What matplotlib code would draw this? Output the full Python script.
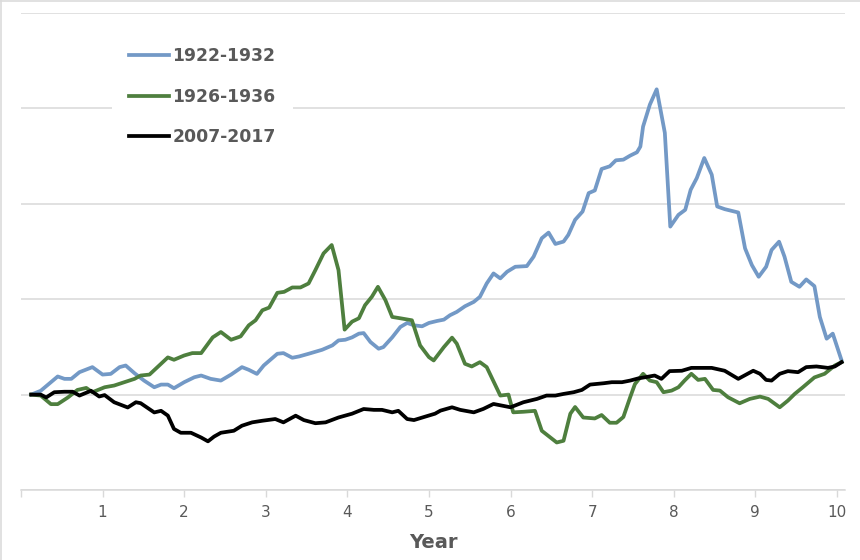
import matplotlib
matplotlib.use("Agg")
import matplotlib.pyplot as plt
from matplotlib.lines import Line2D

# ---- data (x in months, y in grid units) ----
blue_x_m = [1.5, 2.9, 5.4, 6.4, 7.4, 8.6, 10.5, 12, 13.2, 14.5, 15.4, 16.7, 18.1, 19.6, 20.6, 21.6, 22.5,
            24, 25.5, 26.5, 27.9, 29.4, 30.9, 32.5, 33.5, 34.7, 35.7, 37.7, 38.6, 39.9, 40.9, 42.3,
            44.3, 45.8, 46.7, 47.7, 48.7, 49.7, 50.4, 51.4, 52.6, 53.3, 54.6, 55.8, 56.8, 57.8, 59,
            60, 61.2, 62.2, 63.1, 64.1, 65.3, 66.6, 67.5, 68.5, 69.5, 70.5, 71.5, 72.7, 74.4, 75.4,
            76.6, 77.6, 78.6, 79.8, 80.5, 81.5, 82.6, 83.5, 84.4, 85.4, 86.6, 87.5, 88.6, 89.6, 90.6,
            91.1, 91.5, 92.5, 93.5, 94.7, 95.5, 96.7, 97.7, 98.5, 99.4, 100.5, 101.6, 102.4, 103.5,
            105.5, 106.5, 107.5, 108.5, 109.6, 110.4, 111.5, 112.3, 113.3, 114.5, 115.5, 116.7,
            117.5, 118.5, 119.4, 120.7]
blue_y = [0, 0.04, 0.19, 0.165, 0.165, 0.235, 0.288, 0.21, 0.217, 0.288, 0.305, 0.224, 0.147, 0.077,
          0.105, 0.105, 0.067, 0.13, 0.182, 0.2, 0.165, 0.147, 0.21, 0.288, 0.26, 0.217, 0.305, 0.428,
          0.435, 0.386, 0.4, 0.428, 0.47, 0.516, 0.568, 0.575, 0.6, 0.639, 0.645, 0.551, 0.481, 0.498,
          0.6, 0.709, 0.751, 0.726, 0.716, 0.751, 0.772, 0.786, 0.832, 0.867, 0.926, 0.972, 1.025,
          1.165, 1.27, 1.218, 1.288, 1.34, 1.347, 1.446, 1.639, 1.698, 1.579, 1.604, 1.674, 1.832,
          1.919, 2.112, 2.14, 2.365, 2.393, 2.456, 2.463, 2.505, 2.54, 2.6, 2.81, 3.04, 3.2, 2.744,
          1.761, 1.884, 1.937, 2.147, 2.27, 2.48, 2.305, 1.972, 1.944, 1.909, 1.533, 1.358, 1.235,
          1.34, 1.516, 1.603, 1.446, 1.182, 1.13, 1.207, 1.137, 0.814, 0.586, 0.639, 0.358]

green_x_m = [1.5, 2.9, 4.4, 5.4, 6.9, 8.3, 9.6, 10.5, 12.3, 13.7, 15.2, 16.7, 17.6, 18.9, 20.1, 21.6,
             22.5, 24, 25.2, 26.5, 28.2, 29.4, 30.9, 32.3, 33.5, 34.5, 35.5, 36.5, 37.7, 38.7, 39.9,
             41.1, 42.3, 43.3, 44.5, 45.7, 46.7, 47.6, 48.7, 49.7, 50.6, 51.6, 52.5, 53.6, 54.6, 55.8,
             57.5, 58.7, 60, 60.7, 62.2, 63.4, 64.1, 65.3, 66.3, 67.5, 68.5, 70.5, 71.7, 72.4, 73.9,
             75.6, 76.6, 78.8, 79.8, 80.8, 81.5, 82.7, 84.4, 85.4, 86.6, 87.6, 88.6, 89.6, 90.3, 91.5,
             92.5, 93.5, 94.5, 95.7, 96.7, 97.6, 98.6, 99.6, 100.6, 101.8, 102.8, 104, 105.7, 107.2,
             108.7, 109.9, 111.6, 112.8, 113.8, 115, 116.7, 118.2, 119.7, 120.7]
green_y = [0, -0.01, -0.1, -0.1, -0.03, 0.049, 0.07, 0.025, 0.077, 0.095, 0.13, 0.165, 0.2, 0.21,
           0.29, 0.39, 0.365, 0.41, 0.435, 0.435, 0.6, 0.656, 0.575, 0.61, 0.726, 0.779, 0.884,
           0.912, 1.067, 1.077, 1.123, 1.123, 1.165, 1.305, 1.48, 1.568, 1.305, 0.681, 0.765, 0.8,
           0.937, 1.025, 1.13, 0.99, 0.814, 0.8, 0.779, 0.516, 0.393, 0.358, 0.498, 0.597, 0.534,
           0.323, 0.295, 0.34, 0.288, -0.01, 0.0, -0.186, -0.18, -0.17, -0.379, -0.502, -0.484,
           -0.2, -0.13, -0.24, -0.25, -0.214, -0.295, -0.295, -0.235, -0.028, 0.11, 0.218, 0.147,
           0.13, 0.025, 0.042, 0.077, 0.147, 0.218, 0.154, 0.165, 0.049, 0.042, -0.028, -0.091,
           -0.045, -0.021, -0.045, -0.133, -0.063, 0.007, 0.077, 0.18, 0.218, 0.305, 0.34]

black_x_m = [1.5, 2.9, 3.7, 4.9, 6.4, 7.6, 8.6, 10.3, 11.5, 12.3, 13.7, 15.7, 16.9, 17.6, 19.6, 20.6,
             21.6, 22.5, 23.5, 25, 26.5, 27.5, 28.4, 29.4, 31.3, 32.5, 34, 35.5, 37.4, 38.6, 40.4,
             41.6, 43.3, 44.8, 46.7, 48.7, 50.4, 51.9, 53.1, 54.6, 55.5, 56.8, 57.8, 59.5, 60.9,
             61.7, 63.4, 64.6, 66.6, 68, 69.5, 72, 73.9, 75.9, 77.3, 78.6, 79.8, 81.3, 82.5, 83.7,
             85.7, 86.9, 88.4, 89.6, 90.8, 91.8, 93.2, 94.2, 95.4, 97.2, 98.6, 101.6, 103.5, 105.5,
             107.7, 108.7, 109.6, 110.4, 111.6, 112.8, 114.3, 115.5, 117, 118.7, 119.7, 120.7]
black_y = [0, 0, -0.03, 0.025, 0.03, 0.03, -0.01, 0.04, -0.02, -0.005, -0.08, -0.135, -0.08, -0.09,
           -0.187, -0.17, -0.22, -0.36, -0.4, -0.4, -0.45, -0.49, -0.44, -0.4, -0.379, -0.326,
           -0.291, -0.274, -0.256, -0.291, -0.221, -0.267, -0.3, -0.291, -0.24, -0.2, -0.151,
           -0.16, -0.16, -0.186, -0.17, -0.256, -0.267, -0.23, -0.2, -0.168, -0.133, -0.16,
           -0.186, -0.15, -0.098, -0.133, -0.08, -0.045, -0.01, -0.01, 0.007, 0.025, 0.049, 0.105,
           0.119, 0.13, 0.13, 0.147, 0.17, 0.182, 0.2, 0.165, 0.246, 0.25, 0.28, 0.28, 0.25, 0.165,
           0.25, 0.218, 0.154, 0.147, 0.218, 0.246, 0.235, 0.288, 0.295, 0.28, 0.295, 0.34]

labels = ["1922-1932", "1926-1936", "2007-2017"]
xticks = [1, 2, 3, 4, 5, 6, 7, 8, 9, 10]
xlabel = "Year"

blue_x = [m / 12 for m in blue_x_m]
green_x = [m / 12 for m in green_x_m]
black_x = [m / 12 for m in black_x_m]

BLUE = "#7399c6"
GREEN = "#4e7f3e"
TXT = "#595959"
GRID = "#d9d9d9"

fig = plt.figure(figsize=(8.6, 5.6), dpi=100)
ax = fig.add_axes([21 / 860, 1 - 490 / 560, (845 - 21) / 860, (490 - 13) / 560])

ax.plot(blue_x, blue_y, color=BLUE, lw=2.7, solid_joinstyle="round", label=labels[0], zorder=3)
ax.plot(green_x, green_y, color=GREEN, lw=2.7, solid_joinstyle="round", label=labels[1], zorder=4)
ax.plot(black_x, black_y, color="black", lw=2.7, solid_joinstyle="round", label=labels[2], zorder=5)

ax.set_xlim(0, 10.1)
ax.set_ylim(-1, 4)
ax.set_yticks([-1, 0, 1, 2, 3, 4])
ax.set_yticklabels([])
ax.tick_params(axis="y", length=0)
ax.yaxis.grid(True, color=GRID, lw=1.1)
ax.set_axisbelow(True)
ax.set_xticks([0] + xticks)
ax.set_xticklabels([""] + [str(t) for t in xticks])
ax.tick_params(axis="x", length=5, color=GRID, width=1, labelsize=11, labelcolor=TXT, pad=6)
for s in ["top", "right", "left"]:
    ax.spines[s].set_visible(False)
ax.spines["bottom"].set_color(GRID)
ax.spines["bottom"].set_linewidth(1.1)
ax.set_xlabel(xlabel, fontsize=14, fontweight="bold", color=TXT, labelpad=9)

leg = ax.legend(loc="upper left", bbox_to_anchor=(112 / 860, 1 - 30 / 560),
                bbox_transform=fig.transFigure, frameon=True, facecolor="white",
                edgecolor="none", framealpha=1, fancybox=False,
                handlelength=2.3, handletextpad=0.2, labelspacing=1.3,
                borderpad=1.0, borderaxespad=0,
                prop={"size": 12.4, "weight": "bold"})
for t in leg.get_texts():
    t.set_color(TXT)
leg.set_zorder(10)

# light frame on the left and top edges of the image
fig.add_artist(Line2D([0.5 / 860, 0.5 / 860], [0, 1], transform=fig.transFigure, color="#dcdcdc", lw=1.2))
fig.add_artist(Line2D([0, 1], [1 - 0.5 / 560, 1 - 0.5 / 560], transform=fig.transFigure, color="#dcdcdc", lw=1.2))

fig.savefig("out.png", dpi=100)
